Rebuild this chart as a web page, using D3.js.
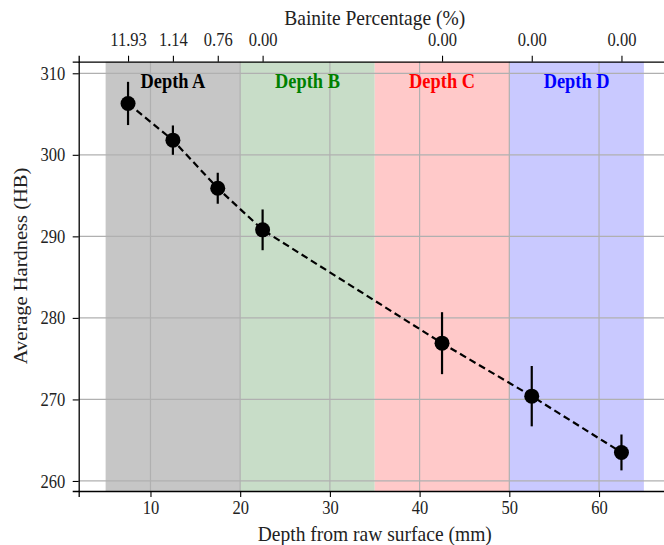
<!DOCTYPE html>
<html>
<head>
<meta charset="utf-8">
<script src="https://cdn.jsdelivr.net/npm/d3@7"></script>
<style>
  body { margin: 0; background: #fff; }
  text { font-family: "Liberation Serif", "Times New Roman", serif; }
  .axis path { stroke: #000; stroke-width: 1.3; }
  .axis line { stroke: #000; stroke-width: 1.1; }
  .axis text { font-size: 19px; fill: #222; }
</style>
</head>
<body>
<div id="chart"></div>
<script>
// data
var depth = [7.5, 12.5, 17.5, 22.5, 42.5, 52.5, 62.5];
var hardness = [306.3, 301.8, 295.9, 290.8, 276.9, 270.4, 263.5];
var hardErr = [2.65, 1.8, 1.9, 2.5, 3.8, 3.7, 2.2];
var bainite = ["11.93", "1.14", "0.76", "0.00", "0.00", "0.00", "0.00"];

var zoneNames = ["Depth A", "Depth B", "Depth C", "Depth D"];
var zoneStart = [5, 20, 35, 50];
var zoneEnd = [20, 35, 50, 65];
var zoneFill = ["#c6c6c6", "#c8ddc8", "#ffc9c9", "#c9c9ff"];
var zoneText = ["#000000", "#008000", "#ff0000", "#0000ff"];

var xTicks = [10, 20, 30, 40, 50, 60];
var yTicks = [260, 270, 280, 290, 300, 310];

var W = 664, H = 545,
    mleft = 78.7,
    mtop = 61.7,
    mright = -6.8,
    mbottom = 54;

var w = W - mleft - mright,
    h = H - mtop - mbottom;

// the source picture is a bit narrow, text is squeezed sideways
var sq = 0.87;

var svg = d3.select("#chart")
    .append("svg")
    .attr("width", W)
    .attr("height", H)
    .append("g")
    .attr("transform", "translate(" + mleft + "," + mtop + ")");

var x = d3.scaleLinear().domain([2, 68]).range([0, w]);
var y = d3.scaleLinear().domain([258.77, 311.42]).range([h, 0]);

// coloured depth zones
svg.selectAll("rect.zone")
    .data(zoneNames)
    .enter()
    .append("rect")
    .attr("class", "zone")
    .attr("x", function(d, i) { return x(zoneStart[i]); })
    .attr("width", function(d, i) { return x(zoneEnd[i]) - x(zoneStart[i]); })
    .attr("y", 0)
    .attr("height", h)
    .attr("fill", function(d, i) { return zoneFill[i]; });

// grid
svg.append("g")
    .selectAll("line")
    .data(xTicks)
    .enter()
    .append("line")
    .attr("x1", function(d) { return x(d); })
    .attr("x2", function(d) { return x(d); })
    .attr("y1", 0)
    .attr("y2", h)
    .attr("stroke", "#b0b0b0")
    .attr("stroke-width", 1.2);

svg.append("g")
    .selectAll("line")
    .data(yTicks)
    .enter()
    .append("line")
    .attr("x1", 0)
    .attr("x2", w)
    .attr("y1", function(d) { return y(d); })
    .attr("y2", function(d) { return y(d); })
    .attr("stroke", "#b0b0b0")
    .attr("stroke-width", 1.2);

// zone labels
svg.selectAll("g.zone")
    .data(zoneNames)
    .enter()
    .append("g")
    .attr("class", "zone")
    .attr("transform", function(d, i) {
        return "translate(" + x((zoneStart[i] + zoneEnd[i]) / 2) + "," + y(309) + ")";
    })
    .append("text")
    .attr("transform", "scale(0.92,1)")
    .attr("dy", "0.35em")
    .attr("text-anchor", "middle")
    .style("font-size", "20px")
    .style("font-weight", "bold")
    .attr("fill", function(d, i) { return zoneText[i]; })
    .text(function(d) { return d; });

// axes
svg.append("g")
    .attr("class", "x axis")
    .attr("transform", "translate(0," + h + ")")
    .call(d3.axisBottom(x).tickValues(xTicks).tickSizeOuter(0).tickSize(6).tickPadding(4))
    .selectAll("text")
    .attr("transform", "scale(" + sq + ",1)");

svg.append("g")
    .attr("class", "y axis")
    .call(d3.axisLeft(y).tickValues(yTicks).tickSizeOuter(0).tickSize(6))
    .selectAll("text")
    .attr("x", -13.5 / sq)
    .attr("transform", "scale(" + sq + ",1)");

var topAxis = d3.axisTop(x)
    .tickValues(depth)
    .tickFormat(function(d, i) { return bainite[i]; })
    .tickSizeOuter(0)
    .tickSize(6)
    .tickPadding(10);

svg.append("g")
    .attr("class", "x axis top")
    .call(topAxis)
    .selectAll("text")
    .attr("transform", "scale(" + sq + ",1)");

// right spine, mostly off the page
svg.append("line")
    .attr("x1", w).attr("x2", w)
    .attr("y1", 0).attr("y2", h)
    .attr("stroke", "#000")
    .attr("stroke-width", 1.3);

// dashed trend line
var line = d3.line()
    .x(function(d, i) { return x(depth[i]); })
    .y(function(d) { return y(d); });

svg.append("path")
    .datum(hardness)
    .attr("d", line)
    .attr("fill", "none")
    .attr("stroke", "#000")
    .attr("stroke-width", 2.2)
    .attr("stroke-dasharray", "7,4");

// error bars
svg.selectAll("line.err")
    .data(hardness)
    .enter()
    .append("line")
    .attr("class", "err")
    .attr("x1", function(d, i) { return x(depth[i]); })
    .attr("x2", function(d, i) { return x(depth[i]); })
    .attr("y1", function(d, i) { return y(d - hardErr[i]); })
    .attr("y2", function(d, i) { return y(d + hardErr[i]); })
    .attr("stroke", "#000")
    .attr("stroke-width", 2.2);

svg.selectAll("circle")
    .data(hardness)
    .enter()
    .append("circle")
    .attr("cx", function(d, i) { return x(depth[i]); })
    .attr("cy", function(d) { return y(d); })
    .attr("r", 7.5)
    .attr("fill", "#000");

// axis titles
svg.append("g")
    .attr("transform", "translate(" + x(35) + "," + (h + 43) + ")")
    .append("text")
    .attr("transform", "scale(0.93,1)")
    .attr("dy", "0.35em")
    .attr("text-anchor", "middle")
    .style("font-size", "21px")
    .attr("fill", "#222")
    .text("Depth from raw surface (mm)");

svg.append("g")
    .attr("transform", "translate(" + x(35) + "," + (-44.5) + ")")
    .append("text")
    .attr("transform", "scale(0.93,1)")
    .attr("dy", "0.35em")
    .attr("text-anchor", "middle")
    .style("font-size", "21px")
    .attr("fill", "#222")
    .text("Bainite Percentage (%)");

svg.append("text")
    .attr("transform", "translate(" + (21 - mleft) + "," + (266 - mtop) + ") rotate(-90) scale(1," + sq + ")")
    .attr("dy", "0.35em")
    .attr("text-anchor", "middle")
    .style("font-size", "20.5px")
    .attr("fill", "#222")
    .text("Average Hardness (HB)");
</script>
</body>
</html>
